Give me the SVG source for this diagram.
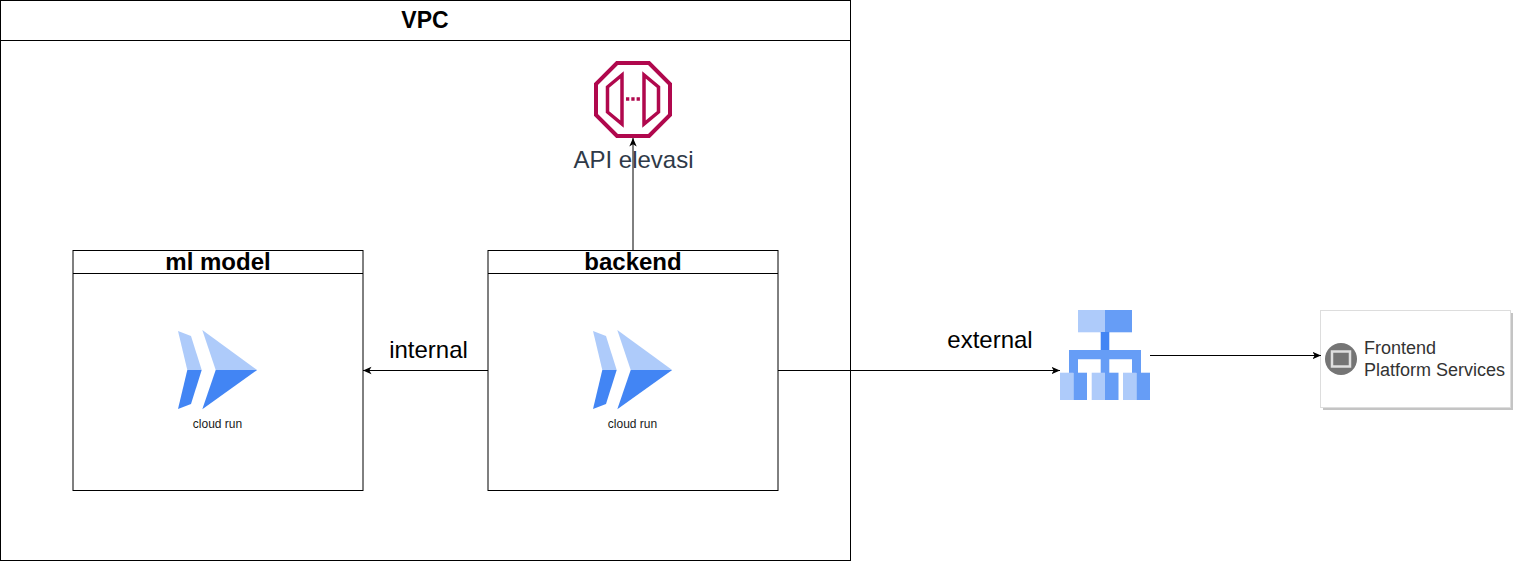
<svg xmlns="http://www.w3.org/2000/svg" width="1515" height="562" viewBox="0 0 1515 562">
<defs>
<marker id="arrow" markerUnits="userSpaceOnUse" markerWidth="10" markerHeight="10" refX="8.5" refY="4.5" orient="auto"><path d="M0 0.8 L8.5 4.5 L0 8.2 L2.2 4.5 Z" fill="#000"/></marker>
<symbol id="run" overflow="visible">
<path d="M178 331 L191 336 L201.700 370 L187.300 370 Z" fill="#aecbfa"/>
<path d="M201.700 370 L191 404 L178 409 L187.300 370 Z" fill="#4285f4"/>
<path d="M202.300 330 L257.200 370 L215.700 370 Z" fill="#aecbfa"/>
<path d="M257.200 370 L202.300 409.300 L215.700 370 Z" fill="#4285f4"/>
</symbol>
</defs>
<style>
.box{fill:#fff;stroke:#000;stroke-width:1}
.title{font:bold 24px "Liberation Sans",Arial,sans-serif;text-anchor:middle;fill:#000}
.lbl{font:24px "Liberation Sans",Arial,sans-serif;text-anchor:middle;fill:#000}
.small{font:12px "Liberation Sans",Arial,sans-serif;text-anchor:middle;fill:#1a1a1a}
.conn{fill:none;stroke:#000;stroke-width:1;marker-end:url(#arrow)}
.front{font:18px "Liberation Sans",Arial,sans-serif;fill:#333}
</style>
<rect width="1515" height="562" fill="#fff"/>
<g id="vpc">
<rect class="box" x="0.500" y="0.500" width="850" height="560"/>
<line x1="0.500" y1="40.500" x2="850.500" y2="40.500" stroke="#000"/>
<text x="425" y="28" font-family="'Liberation Sans',Arial,sans-serif" font-weight="bold" font-size="23" text-anchor="middle">VPC</text>
</g>
<g id="api-elevasi">
<path d="M617 63 L649 63 L670 84 L670 115 L649 136 L617 136 L596 115 L596 84 Z" fill="none" stroke="#b0084d" stroke-width="4"/>
<path d="M622 75 L622 124 L607.500 112 L607.500 87 Z M644 75 L644 124 L658.500 112 L658.500 87 Z" fill="none" stroke="#b0084d" stroke-width="3.500"/>
<path d="M626 99 H640" stroke="#b0084d" stroke-width="3.500" stroke-dasharray="3.300 2" fill="none"/>
<text x="633.500" y="168" font-family="'Liberation Sans',Arial,sans-serif" font-size="24" text-anchor="middle" fill="#2f3a48">API elevasi</text>
</g>
<g id="ml-model">
<rect class="box" x="73" y="250.500" width="290" height="240"/>
<line x1="73" y1="273.500" x2="363" y2="273.500" stroke="#000"/>
<text class="title" x="218" y="270">ml model</text>
<use href="#run"/>
<text class="small" x="217.500" y="428">cloud run</text>
</g>
<g id="backend">
<rect class="box" x="488" y="250.500" width="290" height="240"/>
<line x1="488" y1="273.500" x2="778" y2="273.500" stroke="#000"/>
<text class="title" x="633" y="270">backend</text>
<use href="#run" x="415"/>
<text class="small" x="632.500" y="428">cloud run</text>
</g>
<g id="load-balancer">
<rect x="1078" y="310" width="27" height="22.300" fill="#aecbfa"/>
<rect x="1105" y="310" width="27" height="22.300" fill="#669df6"/>
<rect x="1100.700" y="332" width="8.600" height="18" fill="#4285f4"/>
<path d="M1069 350 H1141 V373 H1132 V359.300 H1109.300 V373 H1100.700 V359.300 H1078 V373 H1069 Z" fill="#669df6"/>
<rect x="1060" y="372.700" width="13.500" height="27.300" fill="#aecbfa"/>
<rect x="1073.500" y="372.700" width="13.500" height="27.300" fill="#669df6"/>
<rect x="1091.700" y="372.700" width="13.300" height="27.300" fill="#aecbfa"/>
<rect x="1105" y="372.700" width="13.500" height="27.300" fill="#669df6"/>
<rect x="1123" y="372.700" width="13.500" height="27.300" fill="#aecbfa"/>
<rect x="1136.500" y="372.700" width="13.500" height="27.300" fill="#669df6"/>
</g>
<g id="frontend">
<rect x="1323" y="313" width="190" height="97" fill="#c4c4c4"/>
<rect x="1320.500" y="310.500" width="190" height="97" fill="#fff" stroke="#dddddd"/>
<circle cx="1341" cy="359" r="16" fill="#757575"/>
<rect x="1332" y="351.500" width="18" height="15" fill="#757575" stroke="#e0e0e0" stroke-width="2.500"/>
<text class="front" x="1364" y="354">Frontend</text>
<text class="front" x="1364" y="375.500">Platform Services</text>
</g>
<g id="connectors">
<line class="conn" x1="633" y1="250" x2="633" y2="138"/>
<line class="conn" x1="488" y1="370.500" x2="363" y2="370.500"/>
<line class="conn" x1="778" y1="370.500" x2="1060" y2="370.500"/>
<line class="conn" x1="1150" y1="355.500" x2="1321" y2="355.500"/>
<text class="lbl" x="428.500" y="358">internal</text>
<text class="lbl" x="990" y="348">external</text>
</g>
</svg>
